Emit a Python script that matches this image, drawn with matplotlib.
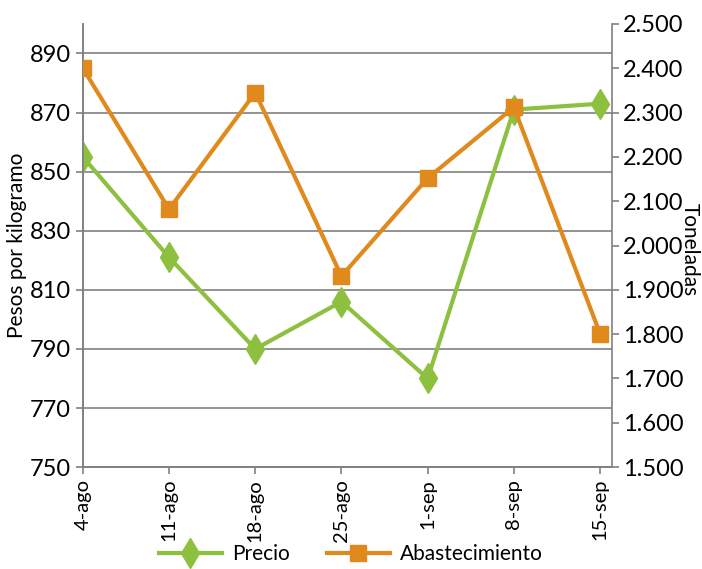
import matplotlib
matplotlib.use('Agg')
import matplotlib.pyplot as plt
from matplotlib.ticker import FuncFormatter

semanas = ['4-ago', '11-ago', '18-ago', '25-ago', '1-sep', '8-sep', '15-sep']
precio = [855, 821, 790, 806, 780, 871, 873]
abastecimiento = [2400, 2082, 2345, 1931, 2152, 2312, 1801]

verde = '#8dc03f'
naranja = '#e08a1e'
gris = '#808080'

plt.rcParams['font.family'] = ['Lato', 'DejaVu Sans']

fig = plt.figure(figsize=(7.02, 5.69), dpi=100)
ax = fig.add_axes([0.118, 0.179, 0.754, 0.779])
ax2 = ax.twinx()

x = list(range(len(semanas)))
l1, = ax.plot(x, precio, color=verde, lw=3, marker='d', ms=15, label='Precio', zorder=3)
l2, = ax2.plot(x, abastecimiento, color=naranja, lw=3, marker='s', ms=11, label='Abastecimiento', zorder=3)

ax.set_xlim(0, 6.14)
ax.set_ylim(750, 900)
ax.set_yticks(range(750, 891, 20))
ax2.set_ylim(1500, 2500)
ax2.set_yticks(range(1500, 2501, 100))
ax2.yaxis.set_major_formatter(FuncFormatter(lambda v, p: '%d.%03d' % (v // 1000, v % 1000)))

ax.set_xticks(x)
ax.set_xticklabels(semanas, rotation=90, fontsize=14.5)
ax.grid(axis='y', color=gris, lw=1.2)
ax.set_axisbelow(True)

for a in (ax, ax2):
    a.spines['top'].set_visible(False)
    for s in ('left', 'right', 'bottom'):
        a.spines[s].set_color(gris)
        a.spines[s].set_linewidth(1.2)
    a.tick_params(colors=gris, labelcolor='black', length=5, width=1.2)
ax.tick_params(axis='y', labelsize=17)
ax2.tick_params(axis='y', labelsize=17, pad=3)
ax.spines['right'].set_visible(False)

ax.set_ylabel('Pesos por kilogramo', fontsize=15, va='center')
ax.yaxis.set_label_coords(-0.125, 0.5)
ax2.set_ylabel('Toneladas', fontsize=15, rotation=-90, va='center', ha='center')
ax2.yaxis.set_label_coords(1.147, 0.49)

fig.legend(handles=[l1, l2], loc='lower center', bbox_to_anchor=(0.5, -0.025), ncol=2,
           frameon=False, fontsize=15, handlelength=3, handletextpad=0.5, columnspacing=1.8)

fig.savefig('out.png', dpi=100)
